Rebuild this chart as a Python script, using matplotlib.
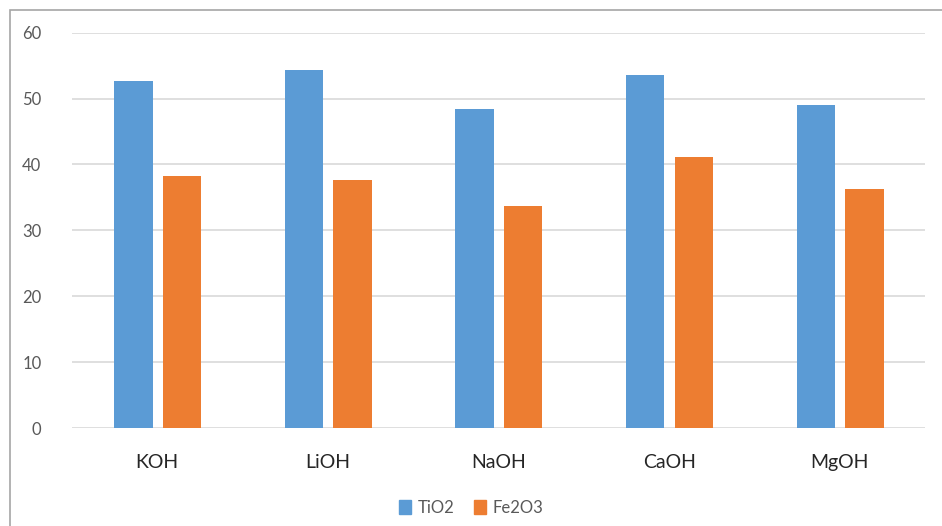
import matplotlib
matplotlib.use('Agg')
import matplotlib.pyplot as plt
import numpy as np
from matplotlib.patches import Rectangle, Patch

plt.rcParams['font.family'] = ['Lato', 'DejaVu Sans']

# Data
categories = ['KOH', 'LiOH', 'NaOH', 'CaOH', 'MgOH']
tio2 = [52.7, 54.4, 48.4, 53.5, 49.0]
fe2o3 = [38.2, 37.6, 33.7, 41.2, 36.2]
series_names = ['TiO2', 'Fe2O3']
yticks = [0, 10, 20, 30, 40, 50, 60]

blue = '#5B9BD5'
orange = '#ED7D31'

fig = plt.figure(figsize=(9.42, 5.26), dpi=100)
ax = fig.add_axes([0.0764, 0.1863, 0.9056, 0.7517])

x = np.arange(len(categories))
w = 0.225
ax.bar(x - 0.14, tio2, w, color=blue, zorder=3)
ax.bar(x + 0.145, fe2o3, w, color=orange, zorder=3)

ax.set_xlim(-0.5, len(categories) - 0.5)
ax.set_ylim(0, 60)
ax.set_yticks(yticks)
ax.set_xticks(x)
ax.set_xticklabels(categories, fontsize=14, color='#262626')
ax.tick_params(axis='x', length=0, pad=19)
ax.tick_params(axis='y', length=0, pad=22, labelsize=12, labelcolor='#595959')
ax.grid(axis='y', color='#D9D9D9', linewidth=1.2, zorder=0)
for s in ax.spines.values():
    s.set_visible(False)

# outer chart frame
fig.patches.append(Rectangle((10 / 942, -0.05), 940 / 942, 1 - 10 / 526 + 0.05,
                             transform=fig.transFigure, fill=False,
                             edgecolor='#A6A6A6', linewidth=1.2))

handles = [Patch(color=blue), Patch(color=orange)]
fig.legend(handles, series_names, loc='center', bbox_to_anchor=(0.5, 1 - 508 / 526),
           ncol=2, frameon=False, fontsize=12, labelcolor='#595959',
           handlelength=0.7, handleheight=0.9, handletextpad=0.4, columnspacing=1.2)

plt.savefig('out.png', dpi=100)
